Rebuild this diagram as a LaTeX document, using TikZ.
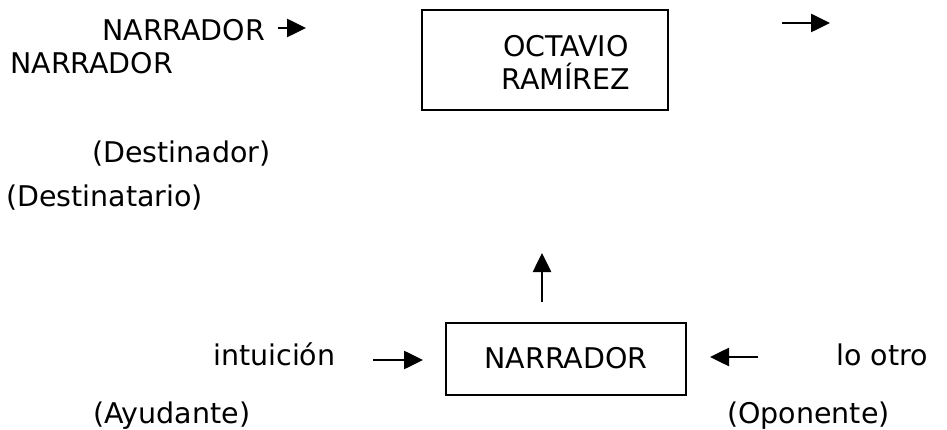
\documentclass[tikz,border=0pt]{standalone}
\usepackage{fontspec}
\setmainfont{DejaVu Sans}
\usetikzlibrary{arrows.meta}
\begin{document}
\begin{tikzpicture}[x=1pt,y=-1pt,
  lbl/.style={anchor=base west,inner sep=0pt,font=\fontsize{28.5}{33}\selectfont},
  actant/.style={draw,line width=2.6pt},
  link/.style={line width=2.6pt,-{Triangle[length=19pt,width=18pt]}}]
\useasboundingbox (0,0) rectangle (947,430);
% labels
\node[lbl] (nar1) at (102,41) {NARRADOR};
\node[lbl] (nar2) at (10,74) {NARRADOR};
\node[lbl] (dor) at (92,163) {(Destinador)};
\node[lbl] (tar) at (6,207) {(Destinatario)};
\node[lbl] (intu) at (213,365) {intuición};
\node[lbl] (otro) at (836,365) {lo otro};
\node[lbl] (ayu) at (93,423) {(Ayudante)};
\node[lbl] (opo) at (727,423) {(Oponente)};
% boxes
\draw[actant] (422,10) rectangle (668,110);
\node[lbl,anchor=center,align=center] (oct) at (566,62) {OCTAVIO\\RAMÍREZ};
\draw[actant] (446,323) rectangle (686,395);
\node[lbl,anchor=base] (nbox) at (566,368) {NARRADOR};
% arrows
\coordinate (a1s) at (278,28); \coordinate (a1e) at (306,28);
\coordinate (a2s) at (782,23); \coordinate (a2e) at (830,23);
\coordinate (a3s) at (542,302); \coordinate (a3e) at (542,253);
\coordinate (a4s) at (373,360); \coordinate (a4e) at (423,360);
\coordinate (a5s) at (758,357); \coordinate (a5e) at (710,357);
\draw[link] (a1s) -- (a1e);
\draw[link] (a2s) -- (a2e);
\draw[link] (a3s) -- (a3e);
\draw[link] (a4s) -- (a4e);
\draw[link] (a5s) -- (a5e);
\end{tikzpicture}
\end{document}
